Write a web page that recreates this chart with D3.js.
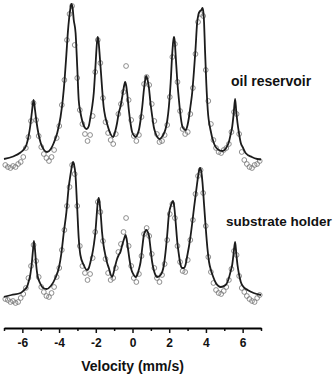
<!DOCTYPE html>
<html>
<head>
<meta charset="utf-8">
<script src="https://cdn.jsdelivr.net/npm/d3@7"></script>
<style>
  body { margin: 0; background: #fff; }
  svg { display: block; font-family: "Liberation Sans", Arial, sans-serif; }
</style>
</head>
<body>
<svg id="chart" width="334" height="377"></svg>
<script>
// channel velocities (mm/s)
var velocity = [
  -6.93, -6.79, -6.65, -6.51, -6.37, -6.23, -6.09, -5.95, -5.81, -5.67,
  -5.53, -5.39, -5.25, -5.11, -4.97, -4.83, -4.69, -4.55, -4.41, -4.27,
  -4.13, -3.99, -3.85, -3.71, -3.57, -3.43, -3.29, -3.15, -3.01, -2.87,
  -2.73, -2.59, -2.45, -2.31, -2.17, -2.03, -1.89, -1.75, -1.61, -1.47,
  -1.33, -1.19, -1.05, -0.91, -0.77, -0.63, -0.49, -0.35, -0.21, -0.07,
  0.07, 0.21, 0.35, 0.49, 0.63, 0.77, 0.91, 1.05, 1.19, 1.33,
  1.47, 1.61, 1.75, 1.89, 2.03, 2.17, 2.31, 2.45, 2.59, 2.73,
  2.87, 3.01, 3.15, 3.29, 3.43, 3.57, 3.71, 3.85, 3.99, 4.13,
  4.27, 4.41, 4.55, 4.69, 4.83, 4.97, 5.11, 5.25, 5.39, 5.53,
  5.67, 5.81, 5.95, 6.09, 6.23, 6.37, 6.51, 6.65, 6.79, 6.93
];

// measured relative absorption, oil reservoir
var oilData = [
  0.5, 0.3, 0.2, 0.4, 0.3, 0.6, 0.8, 1.3, 2.2, 3.3,
  4.9, 6.7, 5.0, 3.4, 2.3, 1.6, 1.2, 0.9, 1.3, 2.0,
  3.2, 4.4, 6.5, 9.0, 13.0, 15.6, 16.4, 12.5, 9.2, 6.0,
  4.6, 3.6, 2.9, 3.5, 5.4, 9.8, 13.0, 10.7, 7.2, 4.8,
  3.7, 3.0, 2.6, 3.6, 5.6, 6.6, 7.8, 10.4, 7.0, 5.0,
  3.4, 2.9, 3.5, 5.3, 8.6, 9.3, 8.5, 6.6, 4.9, 3.6,
  2.8, 2.9, 3.5, 4.5, 7.3, 11.3, 12.6, 8.8, 5.9, 4.1,
  3.6, 3.8, 5.6, 8.2, 11.6, 14.8, 15.6, 15.4, 10.0, 6.9,
  4.6, 3.0, 2.2, 1.8, 1.7, 2.0, 2.2, 2.6, 3.8, 5.8,
  5.6, 3.6, 1.8, 1.0, 0.6, 0.3, 0.2, 0.5, 0.6, 0.9
];

// measured relative absorption, substrate holder
var holderData = [
  1.1, 1.0, 0.8, 0.9, 0.7, 0.8, 1.2, 1.6, 2.2, 3.2,
  4.4, 6.5, 4.9, 3.3, 2.3, 1.8, 1.4, 1.3, 1.7, 2.3,
  3.3, 4.2, 6.0, 8.0, 10.4, 12.3, 14.5, 13.6, 10.4, 6.4,
  4.4, 3.7, 3.0, 3.6, 5.2, 7.8, 10.8, 9.8, 6.9, 5.1,
  3.7, 3.0, 3.2, 4.2, 5.8, 6.6, 7.8, 9.2, 6.4, 4.4,
  3.2, 2.8, 3.6, 5.4, 7.6, 8.2, 7.4, 5.6, 4.2, 3.2,
  2.8, 3.5, 4.6, 7.0, 9.6, 10.6, 9.2, 6.4, 4.8, 3.9,
  3.8, 5.0, 7.0, 9.0, 11.6, 13.4, 14.0, 11.7, 8.4, 5.3,
  3.8, 2.7, 2.0, 1.7, 1.6, 1.9, 2.3, 3.0, 4.1, 5.9,
  5.5, 3.4, 2.2, 1.8, 1.4, 1.1, 0.9, 0.8, 1.2, 1.5
];

// fitted curves [velocity, absorption]
var oilFit = [
  [-7.0, 1.1], [-6.5, 1.35], [-6.1, 1.75], [-5.9, 2.1], [-5.78, 2.5], [-5.66, 3.4], [-5.57, 4.4],
  [-5.48, 5.8], [-5.39, 7.0], [-5.31, 6.0], [-5.22, 4.7], [-5.12, 3.6], [-5.0, 2.7], [-4.82, 2.0],
  [-4.66, 1.8], [-4.45, 2.1], [-4.29, 2.7], [-4.1, 3.7], [-3.92, 5.3], [-3.8, 7.0], [-3.7, 9.0],
  [-3.6, 11.6], [-3.52, 13.8], [-3.45, 15.2], [-3.38, 16.2], [-3.33, 16.6], [-3.27, 16.3],
  [-3.2, 15.0], [-3.1, 13.7], [-3.01, 10.3], [-2.93, 7.0], [-2.84, 5.8], [-2.75, 5.0], [-2.62, 4.3],
  [-2.5, 4.1], [-2.38, 4.4], [-2.29, 5.3], [-2.2, 6.3], [-2.11, 7.7], [-2.02, 10.3], [-1.95, 12.4],
  [-1.9, 13.3], [-1.85, 12.9], [-1.8, 11.8], [-1.72, 9.8], [-1.65, 8.0], [-1.57, 6.3], [-1.48, 5.3],
  [-1.38, 4.6], [-1.22, 3.7], [-1.05, 3.3], [-0.95, 3.8], [-0.84, 4.7], [-0.75, 5.7], [-0.66, 6.3],
  [-0.56, 7.3], [-0.47, 8.3], [-0.4, 8.8], [-0.34, 8.4], [-0.29, 7.7], [-0.2, 6.0], [-0.11, 4.7],
  [-0.02, 3.8], [0.08, 3.45], [0.18, 3.3], [0.28, 3.6], [0.36, 4.1], [0.44, 5.0], [0.53, 6.3],
  [0.62, 8.0], [0.7, 9.1], [0.75, 9.4], [0.81, 9.1], [0.89, 8.3], [0.98, 6.7], [1.08, 5.3],
  [1.16, 4.3], [1.25, 3.7], [1.35, 3.3], [1.48, 3.1], [1.6, 3.3], [1.7, 3.6], [1.8, 4.1],
  [1.89, 4.9], [1.98, 6.3], [2.08, 8.8], [2.16, 11.5], [2.22, 12.9], [2.26, 13.3], [2.3, 12.9],
  [2.35, 11.5], [2.44, 8.9], [2.53, 7.0], [2.62, 5.4], [2.71, 4.4], [2.8, 4.1], [2.9, 4.0],
  [3.0, 4.5], [3.07, 5.2], [3.16, 6.4], [3.25, 7.7], [3.34, 9.7], [3.43, 12.0], [3.52, 14.7],
  [3.6, 15.6], [3.68, 15.9], [3.75, 16.0], [3.81, 16.2], [3.86, 15.8], [3.9, 14.7], [3.95, 12.0],
  [4.02, 8.7], [4.1, 6.0], [4.25, 4.0], [4.43, 2.7], [4.7, 2.0], [4.9, 1.9], [5.1, 2.2],
  [5.25, 2.8], [5.35, 3.6], [5.43, 4.3], [5.51, 5.6], [5.59, 7.1], [5.65, 5.9], [5.72, 4.7],
  [5.8, 3.7], [5.9, 2.7], [6.0, 2.3], [6.16, 1.7], [6.5, 1.3], [6.8, 1.1], [7.0, 1.05]
];

var holderFit = [
  [-7.0, 1.3], [-6.6, 1.5], [-6.1, 1.7], [-5.9, 2.0], [-5.75, 2.3], [-5.65, 2.9], [-5.57, 3.5],
  [-5.48, 4.8], [-5.42, 6.0], [-5.37, 6.9], [-5.31, 6.0], [-5.26, 4.8], [-5.18, 3.5], [-5.04, 2.7],
  [-4.86, 2.2], [-4.68, 2.1], [-4.45, 2.4], [-4.2, 3.2], [-4.0, 4.3], [-3.88, 5.6], [-3.74, 7.8],
  [-3.6, 9.8], [-3.48, 12.2], [-3.38, 13.5], [-3.3, 14.4], [-3.24, 14.8], [-3.18, 14.5],
  [-3.11, 13.6], [-3.02, 10.5], [-2.93, 7.2], [-2.84, 5.5], [-2.66, 4.5], [-2.48, 4.0],
  [-2.38, 4.2], [-2.29, 4.8], [-2.2, 5.5], [-2.1, 6.6], [-2.02, 7.8], [-1.95, 9.5], [-1.89, 10.8],
  [-1.84, 11.2], [-1.79, 10.7], [-1.72, 9.3], [-1.66, 7.8], [-1.57, 6.4], [-1.48, 5.5],
  [-1.38, 4.7], [-1.29, 4.2], [-1.2, 3.6], [-1.11, 3.3], [-1.02, 3.8], [-0.93, 4.5], [-0.84, 5.1],
  [-0.75, 5.5], [-0.66, 5.8], [-0.56, 6.5], [-0.46, 7.1], [-0.38, 7.5], [-0.33, 7.2], [-0.25, 6.2],
  [-0.16, 5.0], [-0.07, 4.1], [0.04, 3.6], [0.16, 3.3], [0.26, 3.5], [0.34, 4.0], [0.44, 4.8],
  [0.53, 6.2], [0.62, 7.5], [0.7, 7.9], [0.76, 8.0], [0.83, 7.8], [0.89, 7.5], [0.98, 6.2],
  [1.07, 4.8], [1.16, 4.0], [1.25, 3.5], [1.35, 3.3], [1.53, 3.5], [1.71, 4.5], [1.8, 5.8],
  [1.89, 7.5], [1.98, 9.5], [2.12, 10.6], [2.2, 10.9], [2.27, 10.4], [2.35, 8.8], [2.44, 6.8],
  [2.53, 5.5], [2.62, 4.5], [2.71, 4.2], [2.8, 4.2], [2.9, 4.6], [2.98, 5.4], [3.08, 6.4],
  [3.17, 7.5], [3.26, 8.8], [3.35, 10.2], [3.44, 11.5], [3.53, 12.8], [3.61, 13.8], [3.68, 14.2],
  [3.75, 13.8], [3.81, 12.8], [3.9, 10.5], [3.99, 8.2], [4.08, 6.2], [4.17, 4.8], [4.27, 4.0],
  [4.36, 3.5], [4.54, 2.7], [4.68, 2.4], [4.81, 2.3], [5.07, 2.5], [5.25, 3.2], [5.35, 3.9],
  [5.43, 4.5], [5.51, 5.7], [5.59, 6.8], [5.65, 5.7], [5.72, 4.5], [5.8, 3.6], [5.9, 2.8],
  [6.05, 2.3], [6.27, 2.0], [6.6, 1.7], [7.0, 1.5]
];

var majorTicks = [-6, -4, -2, 0, 2, 4, 6];
var minorTicks = [-7, -5, -3, -1, 1, 3, 5, 7];
var spectrumLabels = ['oil reservoir', 'substrate holder'];

var svg = d3.select('#chart'),
    axisY = 328,
    x = d3.scaleLinear().domain([-7, 7]).range([4, 261]),
    // one vertical scale per spectrum, stacked
    yScales = [
      d3.scaleLinear().domain([0, 17]).range([170, 0]),
      d3.scaleLinear().domain([0, 17]).range([310, 140])
    ],
    measured = [oilData, holderData],
    fits = [oilFit, holderFit],
    labelPos = [[231, 86], [226, 226]],
    labelSize = [14, 13.5];

measured.forEach(function (series, k) {
  var y = yScales[k],
      g = svg.append('g').classed('spectrum', true);

  // data points
  g.selectAll('circle')
    .data(series)
    .join('circle')
      .attr('cx', function (d, i) { return x(velocity[i]); })
      .attr('cy', function (d) { return y(d); })
      .attr('r', 2.4)
      .attr('fill', 'none')
      .attr('stroke', '#737373')
      .attr('stroke-width', 0.8);

  // fitted envelope
  var line = d3.line()
    .x(function (d) { return x(d[0]); })
    .y(function (d) { return y(d[1]); })
    .curve(d3.curveMonotoneX);
  g.append('path')
    .datum(fits[k])
    .attr('d', line)
    .attr('fill', 'none')
    .attr('stroke', '#1c1c1c')
    .attr('stroke-width', 1.8)
    .attr('stroke-linejoin', 'round');

  g.append('text')
    .attr('x', labelPos[k][0])
    .attr('y', labelPos[k][1])
    .attr('font-size', labelSize[k])
    .attr('font-weight', 'bold')
    .attr('fill', '#111')
    .text(spectrumLabels[k]);
});

// x axis: minor ticks, then major ticks with labels
var axisG = svg.append('g').attr('transform', 'translate(0,' + axisY + ')');

axisG.append('g')
  .call(d3.axisBottom(x).tickValues(minorTicks).tickSize(3).tickSizeOuter(0).tickFormat(''))
  .call(function (g) { g.select('.domain').remove(); });

axisG.append('g')
  .call(d3.axisBottom(x).tickValues(majorTicks).tickSize(5).tickSizeOuter(0).tickPadding(5)
    .tickFormat(function (d) { return String(d); }))
  .call(function (g) {
    g.select('.domain').attr('stroke-width', 2);
    g.selectAll('text')
      .attr('font-size', 12)
      .attr('font-weight', 'bold')
      .attr('font-family', '"Liberation Sans", Arial, sans-serif')
      .attr('fill', '#111');
  });

axisG.selectAll('.tick line')
  .attr('stroke', '#111')
  .attr('stroke-width', 1.5);

svg.append('text')
  .attr('x', x(0))
  .attr('y', 371)
  .attr('text-anchor', 'middle')
  .attr('font-size', 14)
  .attr('font-weight', 'bold')
  .attr('fill', '#111')
  .text('Velocity (mm/s)');
</script>
</body>
</html>
